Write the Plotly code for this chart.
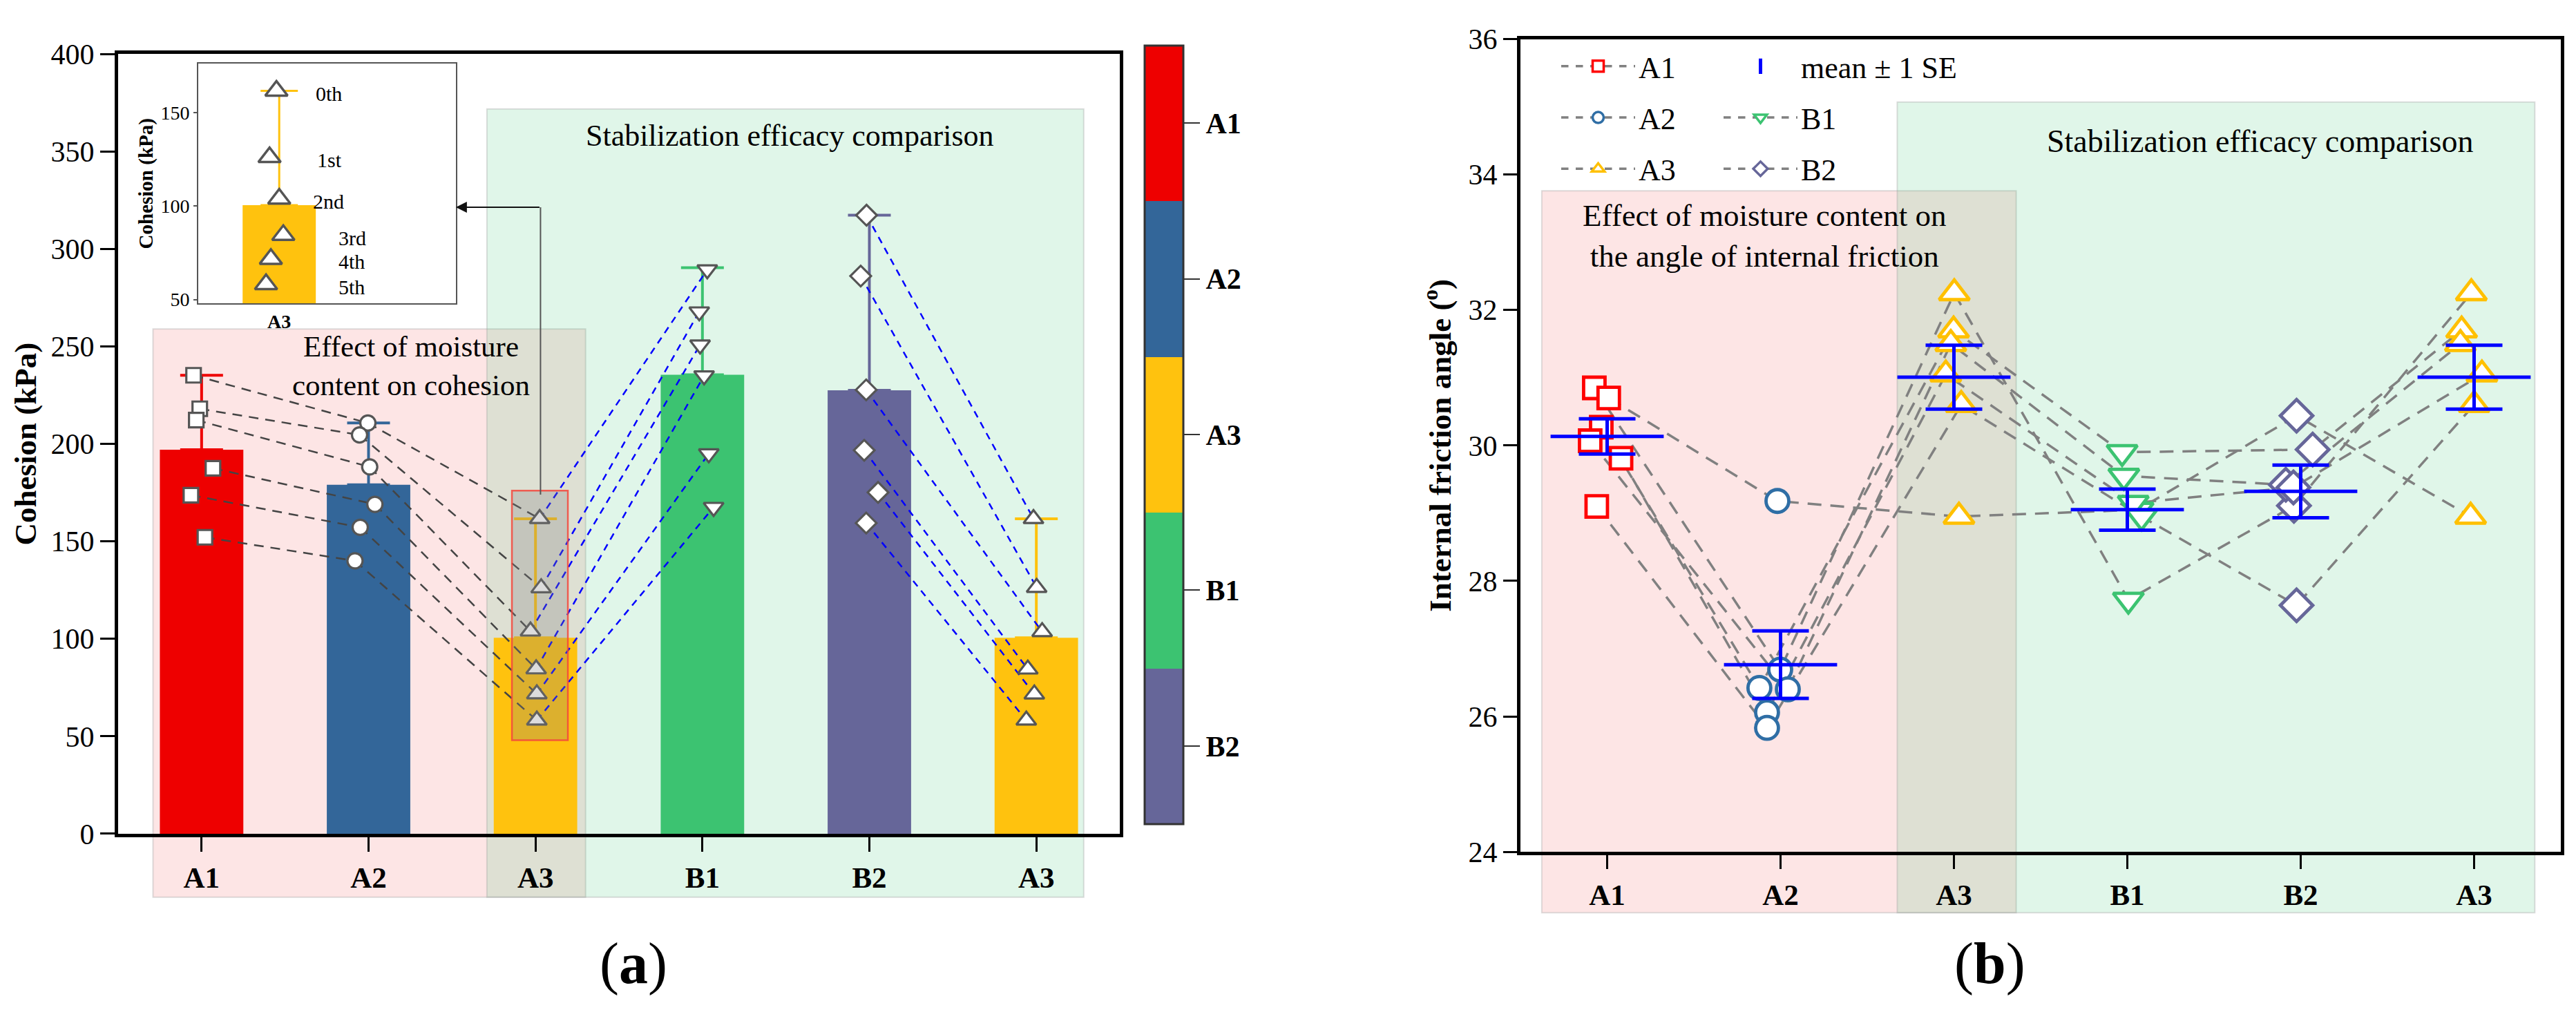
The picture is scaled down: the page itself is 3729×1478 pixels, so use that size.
import numpy as np
import plotly.graph_objects as go

# ---------------- data ----------------
groups = ["A1", "A2", "A3", "B1", "B2", "A3"]
group_colors = ["#ee0000", "#336699", "#ffc20e", "#3cc371", "#666699", "#ffc20e"]
color_codes = [4, 3, 2, 1, 0, 2]
colorbar_labels = ["B2", "B1", "A3", "A2", "A1"]
colorbar_colors = ["#666699", "#3cc371", "#ffc20e", "#336699", "#ee0000"]
symbols_a = ["square", "circle", "triangle-up", "triangle-down", "diamond", "triangle-up"]

# panel (a): cohesion (kPa), six specimens per group
coh_A1 = [235.2, 218.0, 212.2, 187.5, 173.7, 152.1]
coh_A2 = [210.7, 204.6, 188.2, 169.0, 157.2, 140.0]
coh_A3 = [161.6, 126.1, 103.9, 84.5, 71.7, 58.2]
coh_B1 = [289.4, 267.8, 250.8, 235.0, 195.0, 167.5]
coh_B2 = [317.3, 286.1, 227.7, 196.7, 175.1, 159.4]
coh_A3b = [161.6, 126.3, 103.6, 84.4, 71.6, 58.2]
coh_bar = [197.0, 179.0, 100.5, 235.5, 227.5, 100.5]
coh_err_top = [235.2, 210.7, 161.6, 290.4, 317.3, 161.6]

jit_A1 = [-0.048, -0.011, -0.032, 0.068, -0.064, 0.020]
jit_A2 = [-0.004, -0.054, 0.007, 0.038, -0.050, -0.081]
jit_A3 = [0.025, 0.034, -0.030, 0.004, 0.008, 0.008]
jit_B1 = [0.029, -0.019, -0.014, 0.010, 0.038, 0.067]
jit_B2 = [-0.017, -0.052, -0.019, -0.031, 0.052, -0.019]
jit_A3b = [-0.017, 0.002, 0.035, -0.051, -0.012, -0.060]

# inset
ordinal_labels = ["0th", "1st", "2nd", "3rd", "4th", "5th"]
inset_jit = [-0.019, -0.066, 0.0, 0.028, -0.057, -0.090]
inset_label_x = [0.24, 0.25, 0.22, 0.395, 0.395, 0.395]

# panel (b): internal friction angle (deg), six specimens per group
phi_A1 = [30.85, 30.70, 30.27, 30.07, 29.81, 29.10]
phi_A2 = [26.69, 29.18, 26.42, 26.40, 26.06, 25.83]
phi_A3 = [32.25, 28.95, 31.70, 31.50, 31.05, 30.60]
phi_B1 = [27.72, 29.05, 29.90, 29.55, 29.15, 28.95]
phi_B2 = [29.11, 30.44, 29.94, 29.42, 29.38, 27.64]
phi_A3b = [32.25, 28.95, 31.70, 31.50, 31.05, 30.60]

pj_A1 = [-0.074, 0.009, -0.034, -0.098, 0.080, -0.060]
pj_A2 = [-0.002, -0.018, -0.122, 0.042, -0.078, -0.078]
pj_A3 = [0.002, 0.029, -0.002, -0.018, -0.047, 0.042]
pj_B1 = [0.006, 0.062, -0.030, -0.020, 0.034, 0.082]
pj_B2 = [-0.039, -0.024, 0.069, -0.086, -0.042, -0.024]
pj_A3b = [-0.016, -0.020, -0.072, -0.079, 0.045, 0.0]

legend_names_b = ["A1", "A2", "A3", "B1", "B2"]
phi_colors = ["#ff0000", "#2f6ea5", "#ffc000", "#3cc371", "#666699", "#ffc000"]

coh = [coh_A1, coh_A2, coh_A3, coh_B1, coh_B2, coh_A3b]
cjit = [jit_A1, jit_A2, jit_A3, jit_B1, jit_B2, jit_A3b]
phi = [phi_A1, phi_A2, phi_A3, phi_B1, phi_B2, phi_A3b]
pjit = [pj_A1, pj_A2, pj_A3, pj_B1, pj_B2, pj_A3b]

# shaded regions (data units)
pink_a = dict(x0=-0.291, x1=2.30, y0=-32.5, y1=258.9)
green_a = dict(x0=1.709, x1=5.284, y0=-32.5, y1=371.8)
pink_b = dict(x0=-0.377, x1=2.359, y0=23.1, y1=33.76)
green_b = dict(x0=1.673, x1=5.35, y0=23.1, y1=35.07)

SERIF = "Liberation Serif"

fig = go.Figure()

# ---------------- panel (a) ----------------
cs = []
for i, c in enumerate(colorbar_colors):
    cs += [[i / 5, c], [(i + 1) / 5, c]]

fig.add_trace(go.Bar(
    x=list(range(6)), y=coh_bar, width=0.5, xaxis="x", yaxis="y",
    marker=dict(color=color_codes, colorscale=cs, cmin=-0.5, cmax=4.5,
                line=dict(width=0), showscale=True,
                colorbar=dict(x=1657 / 3729, xanchor="left", y=1 - 626.5 / 1478,
                              yanchor="middle", len=1163 / 1478, lenmode="fraction",
                              thickness=56, thicknessmode="pixels",
                              outlinewidth=3, outlinecolor="#333",
                              tickvals=[0, 1, 2, 3, 4], ticktext=colorbar_labels,
                              ticks="outside", ticklen=23, tickwidth=2, tickcolor="#333",
                              tickfont=dict(family=SERIF, size=42, color="black", weight="bold"),
                              xpad=0, ypad=0)),
    showlegend=False, hoverinfo="skip"))

# error bars (bar mean to upper value)
for g in range(6):
    fig.add_trace(go.Scatter(
        x=[g], y=[coh_bar[g]], mode="markers", xaxis="x", yaxis="y",
        marker=dict(size=1, opacity=0),
        error_y=dict(type="data", symmetric=False, array=[coh_err_top[g] - coh_bar[g]],
                     arrayminus=[0], color=group_colors[g], thickness=4, width=31),
        showlegend=False, hoverinfo="skip"))

# connecting lines
def seg_trace(pairs, color, dash):
    xs, ys = [], []
    for (ga, gb) in pairs:
        for r in range(6):
            xs += [ga + cjit[ga][r], gb + cjit[gb][r], None]
            ys += [coh[ga][r], coh[gb][r], None]
    return go.Scatter(x=xs, y=ys, mode="lines", xaxis="x", yaxis="y",
                      line=dict(color=color, width=2.5, dash=dash),
                      showlegend=False, hoverinfo="skip")

fig.add_trace(seg_trace([(0, 1), (1, 2)], "#444444", "14px,10px"))
fig.add_trace(seg_trace([(2, 3), (4, 5)], "#0000ff", "10px,8px"))

sizes_a = [21, 22, 25, 25, 23, 25]
for g in range(6):
    fig.add_trace(go.Scatter(
        x=[g + j for j in cjit[g]], y=coh[g], mode="markers", xaxis="x", yaxis="y",
        marker=dict(symbol=symbols_a[g], size=sizes_a[g], color="white",
                    line=dict(color="#555555", width=3.2)),
        showlegend=False, hoverinfo="skip"))

# ---------------- inset ----------------
fig.add_trace(go.Bar(x=[0], y=[coh_bar[2]], width=0.5, xaxis="x3", yaxis="y3",
                     marker=dict(color=group_colors[2], line=dict(width=0)),
                     showlegend=False, hoverinfo="skip"))
fig.add_trace(go.Scatter(
    x=[0], y=[coh_bar[2]], mode="markers", xaxis="x3", yaxis="y3",
    marker=dict(size=1, opacity=0),
    error_y=dict(type="data", symmetric=False, array=[coh_err_top[2] - coh_bar[2]],
                 arrayminus=[0], color=group_colors[2], thickness=3, width=27),
    showlegend=False, hoverinfo="skip"))
fig.add_trace(go.Scatter(
    x=inset_jit, y=coh_A3, mode="markers", xaxis="x3", yaxis="y3",
    marker=dict(symbol="triangle-up", size=28, color="white",
                line=dict(color="#555555", width=3.5)),
    showlegend=False, hoverinfo="skip"))

# ---------------- panel (b) ----------------
for r in range(6):
    fig.add_trace(go.Scatter(
        x=[g + pjit[g][r] for g in range(6)], y=[phi[g][r] for g in range(6)],
        mode="lines", xaxis="x2", yaxis="y2",
        line=dict(color="#808080", width=3.5, dash="20px,13px"),
        showlegend=False, hoverinfo="skip"))

symbols_b = ["square", "circle", "triangle-up", "triangle-down", "diamond", "triangle-up"]
sizes_b = [31, 33, 38, 38, 36, 38]
for g in range(6):
    fig.add_trace(go.Scatter(
        x=[g + j for j in pjit[g]], y=phi[g], mode="markers", xaxis="x2", yaxis="y2",
        marker=dict(symbol=symbols_b[g], size=sizes_b[g], color="white",
                    line=dict(color=phi_colors[g], width=4.8)),
        showlegend=False, hoverinfo="skip"))

means = [float(np.mean(v)) for v in phi]
ses = [float(np.std(v, ddof=1) / np.sqrt(len(v))) for v in phi]
fig.add_trace(go.Scatter(
    x=list(range(6)), y=means, mode="markers", xaxis="x2", yaxis="y2",
    marker=dict(symbol="line-ew", size=117, color="#0000ff",
                line=dict(color="#0000ff", width=5)),
    error_y=dict(type="data", array=ses, color="#0000ff", thickness=5, width=41),
    showlegend=False, hoverinfo="skip"))

# legend entries for panel (b)
for i, name in enumerate(legend_names_b):
    fig.add_trace(go.Scatter(
        x=[None], y=[None], mode="lines+markers", name=name, xaxis="x2", yaxis="y2",
        line=dict(color="#808080", width=3.5, dash="dash"),
        marker=dict(symbol=symbols_b[i], size=16, color="white",
                    line=dict(color=phi_colors[i], width=3.5)),
        legend="legend" if i < 3 else "legend2", legendgroup=name,
        legendrank=i + 2))
fig.add_trace(go.Scatter(
    x=[None], y=[None], mode="markers", name="mean \u00b1 1 SE", xaxis="x2", yaxis="y2",
    marker=dict(symbol="line-ns", size=16, color="#0000ff",
                line=dict(color="#0000ff", width=5)),
    legend="legend2", legendgroup="mse", legendrank=1))

# ---------------- shapes ----------------
def dom_a(d):
    return dict(x0=(d["x0"] + 0.5) / 6, x1=(d["x1"] + 0.5) / 6,
                y0=d["y0"] / 400, y1=d["y1"] / 400)

def dom_b(d):
    return dict(x0=(d["x0"] + 0.5) / 6, x1=(d["x1"] + 0.5) / 6,
                y0=(d["y0"] - 24) / 12, y1=(d["y1"] - 24) / 12)

shapes = []
for d, col in [(dom_a(pink_a), "rgba(240,0,0,0.10)"), (dom_a(green_a), "rgba(60,195,113,0.155)")]:
    shapes.append(dict(type="rect", xref="x domain", yref="y domain", layer="below",
                       fillcolor=col, line=dict(color="rgba(160,160,160,0.35)", width=2), **d))
for d, col in [(dom_b(pink_b), "rgba(240,0,0,0.10)"), (dom_b(green_b), "rgba(60,195,113,0.155)")]:
    shapes.append(dict(type="rect", xref="x2 domain", yref="y2 domain", layer="below",
                       fillcolor=col, line=dict(color="rgba(160,160,160,0.35)", width=2), **d))

# zoom rectangle around A3 and connector to inset
shapes.append(dict(type="rect", xref="x", yref="y", layer="above", x0=1.859, x1=2.194,
                   y0=48, y1=176, fillcolor="rgba(130,130,130,0.28)",
                   line=dict(color="rgba(245,70,60,0.85)", width=2.5)))
shapes.append(dict(type="line", xref="x", yref="y", layer="above", x0=2.03, x1=2.03,
                   y0=174, y1=321.4, line=dict(color="#555", width=2)))

annotations = [
    dict(x=1.523, y=321.4, ax=2.03, ay=321.4, xref="x", yref="y", axref="x", ayref="y",
         text="", showarrow=True, arrowhead=2, arrowsize=1.6, arrowwidth=2,
         arrowcolor="#111", standoff=0),
    dict(x=1.253, y=240, xref="x", yref="y", showarrow=False,
         text="Effect of moisture<br>content on cohesion",
         font=dict(family=SERIF, size=43, color="black")),
    dict(x=3.526, y=358.1, xref="x", yref="y", showarrow=False,
         text="Stabilization efficacy comparison",
         font=dict(family=SERIF, size=44, color="black")),
    dict(x=0.91, y=33.09, xref="x2", yref="y2", showarrow=False,
         text="Effect of moisture content on<br>the angle of internal friction",
         font=dict(family=SERIF, size=45, color="black")),
    dict(x=3.763, y=34.49, xref="x2", yref="y2", showarrow=False,
         text="Stabilization efficacy comparison",
         font=dict(family=SERIF, size=46, color="black")),
    dict(x=917 / 3729, y=1 - 1417 / 1478, xref="paper", yref="paper", showarrow=False,
         xanchor="center", yanchor="middle",
         text="(<b>a</b>)", font=dict(family=SERIF, size=84, color="black")),
    dict(x=2880 / 3729, y=1 - 1417 / 1478, xref="paper", yref="paper", showarrow=False,
         xanchor="center", yanchor="middle",
         text="(<b>b</b>)", font=dict(family=SERIF, size=84, color="black")),
]
for lab, lx, ly in zip(ordinal_labels, inset_label_x, coh_A3):
    annotations.append(dict(x=lx, y=ly, xref="x3", yref="y3", showarrow=False,
                            xanchor="left", yshift=-4, text=lab,
                            font=dict(family=SERIF, size=30, color="black")))

axis_base = dict(showgrid=False, zeroline=False, showline=True, mirror=True,
                 linecolor="black", ticks="outside", tickcolor="black")
num_font = dict(family=SERIF, size=42, color="black")
cat_font = dict(family=SERIF, size=43, color="black", weight="bold")

fig.update_layout(
    width=3729, height=1478, margin=dict(l=0, r=0, t=0, b=0),
    paper_bgcolor="white", plot_bgcolor="rgba(0,0,0,0)",
    font=dict(family=SERIF, color="black"),
    shapes=shapes, annotations=annotations,
    xaxis=dict(domain=[171 / 3729, 1621 / 3729], anchor="y", range=[-0.5, 5.5],
               tickvals=list(range(6)), ticktext=groups, ticklen=21, tickwidth=3,
               linewidth=5, tickfont=cat_font, **axis_base),
    yaxis=dict(domain=[1 - 1223 / 1478, 1 - 58 / 1478], anchor="x", range=[0, 400],
               dtick=50, ticklen=21, tickwidth=3, linewidth=5, tickfont=num_font,
               title=dict(text="Cohesion (kPa)", standoff=8,
                          font=dict(family=SERIF, size=45, color="black", weight="bold")),
               **axis_base),
    xaxis2=dict(domain=[2201 / 3729, 3707 / 3729], anchor="y2", range=[-0.5, 5.5],
                tickvals=list(range(6)), ticktext=groups, ticklen=20, tickwidth=3,
                linewidth=5, tickfont=cat_font, **axis_base),
    yaxis2=dict(domain=[1 - 1250 / 1478, 1 - 35.7 / 1478], anchor="x2", range=[24, 36],
                dtick=2, ticklen=20, tickwidth=3, linewidth=5, tickfont=num_font,
                title=dict(text="Internal friction angle (<sup>o</sup>)", standoff=12,
                           font=dict(family=SERIF, size=45, color="black", weight="bold")),
                **axis_base),
    xaxis3=dict(domain=[287 / 3729, 660 / 3729], anchor="y3", range=[-0.553, 1.207],
                tickvals=[0], ticktext=["A3"], ticks="", showgrid=False, zeroline=False,
                showline=True, mirror=True, linecolor="#555", linewidth=2,
                tickfont=dict(family=SERIF, size=28, color="black", weight="bold")),
    yaxis3=dict(domain=[1 - 430.5 / 1478, 1 - 72.7 / 1478], anchor="x3", range=[48, 176],
                tickvals=[50, 100, 150], ticks="outside", ticklen=5, tickwidth=1.5,
                tickcolor="#555", showgrid=False, zeroline=False, showline=True,
                mirror=True, linecolor="#555", linewidth=2,
                tickfont=dict(family=SERIF, size=28, color="black"),
                title=dict(text="Cohesion (kPa)", standoff=2,
                           font=dict(family=SERIF, size=29, color="black", weight="bold"))),
    legend=dict(x=2255 / 3729, y=1 - 40 / 1478, xanchor="left", yanchor="top",
                font=dict(family=SERIF, size=44, color="black"), bgcolor="rgba(0,0,0,0)",
                itemwidth=107, tracegroupgap=14, traceorder="grouped"),
    legend2=dict(x=2490 / 3729, y=1 - 40 / 1478, xanchor="left", yanchor="top",
                 font=dict(family=SERIF, size=44, color="black"), bgcolor="rgba(0,0,0,0)",
                 itemwidth=107, tracegroupgap=14, traceorder="grouped"),
)

fig.write_html(
    "out.html",
    config={"displayModeBar": False},
    post_script="document.body.style.margin='0';"
                "document.body.style.overflow='hidden';"
                "document.documentElement.style.overflow='hidden';",
)
